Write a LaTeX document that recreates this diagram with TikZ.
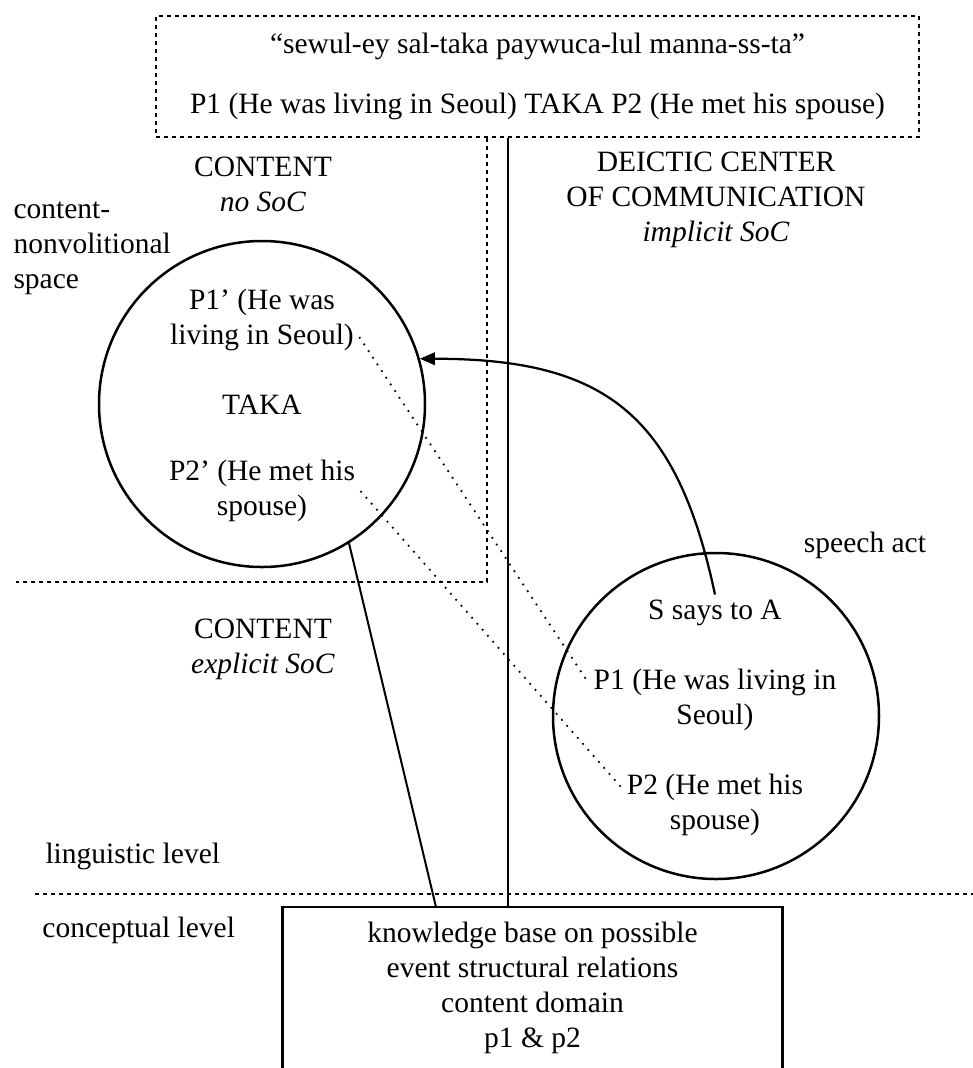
\documentclass[tikz,border=0pt]{standalone}
\usepackage{fontspec}
\setmainfont{Liberation Serif}
\usetikzlibrary{positioning}
\usetikzlibrary{arrows.meta}
\tikzset{
    bubble/.style = {circle, draw=black, line width=1pt, minimum size=130.4pt, inner sep=0pt},
    lbl/.style = {align=center, inner sep=2pt, font=\fontsize{11.8}{14}\selectfont},
    lbll/.style = {align=left, anchor=west, inner sep=0pt, font=\fontsize{11.8}{14}\selectfont},
    edgen/.style = {line width=0.8pt},
    edgea/.style = {-{Triangle[length=6pt,width=5pt]},line width=0.9pt},
    edged/.style = {line width=1pt,dash pattern=on 1.6pt off 1.6pt}, % boxes and levels
    edgep/.style = {line width=0.7pt,dash pattern=on 0.7pt off 2.5pt} % P links
}

\begin{document}
\begin{tikzpicture}[x=0.4pt,y=-0.4pt]
  \useasboundingbox (0,0) rectangle (973,1068);
  % utterance
  \node[lbl,draw=black,edged,minimum width=305.2pt,minimum height=48.4pt] (quote) at (537.5,76.5)
    {“sewul-ey sal-taka paywuca-lul manna-ss-ta”\\[10pt]P1 (He was living in Seoul) TAKA P2 (He met his spouse)};
  \node[lbl] (cont) at (263,184.5) {CONTENT\\\textit{no SoC}};
  \node[lbl] (deictic) at (716,200) {DEICTIC CENTER\\OF COMMUNICATION\\\textit{implicit SoC}};
  \node[lbll] (space) at (13,248) {content-\\nonvolitional\\space};
  % content space
  \node[bubble] (leftc) at (262,404) {};
  \node[lbl] (p1l) at (262,320) {P1’ (He was\\living in Seoul)};
  \node[lbl] (takal) at (262,405) {TAKA};
  \node[lbl] (p2l) at (262,491) {P2’ (He met his\\spouse)};
  \node[lbl] (cont2) at (263,649) {CONTENT\\\textit{explicit SoC}};
  % speech act
  \node[lbl] (sact) at (865,545) {speech act};
  \node[bubble] (rightc) at (716,716) {};
  \node[lbl] (says) at (715,613) {S says to A};
  \node[lbl] (p1r) at (715,700) {P1 (He was living in\\Seoul)};
  \node[lbl] (p2r) at (715,805) {P2 (He met his\\spouse)};
  % levels
  \node[lbll] (ling) at (45,856) {linguistic level};
  \node[lbll] (conc) at (42,930) {conceptual level};
  \node[lbl,minimum width=199.6pt,minimum height=64.4pt] (kb) at (532.5,988)
    {knowledge base on possible\\event structural relations\\content domain\\p1 \& p2};
  \draw[line width=1pt] (kb.south west) -- (kb.north west) -- (kb.north east) -- (kb.south east);
  \coordinate (cnr) at (487,582);
  \coordinate (cleft) at (16,582);
  \coordinate (lvla) at (35,894);
  \coordinate (lvlb) at (973,894);
  \draw[edged] (quote.south -| cnr) -- (cnr) -- (cleft);
  \draw[edged] (lvla) -- (lvlb);
  \draw[edgen] ([xshift=-11.8pt]quote.south) -- ([xshift=-11.8pt]quote.south |- kb.north);
  \draw[edgen] (leftc.-58.6) -- ([xshift=-38.6pt]kb.north);
  \draw[edgep] ([yshift=-6.8pt]p1l.east) -- ([yshift=7pt]p1r.west);
  \draw[edgep] (p2l.east) -- ([yshift=7pt]p2r.west);
  \draw[edgea] (says.north) to[out=102,in=0,looseness=1.25] (leftc.16);
\end{tikzpicture}
\end{document}
